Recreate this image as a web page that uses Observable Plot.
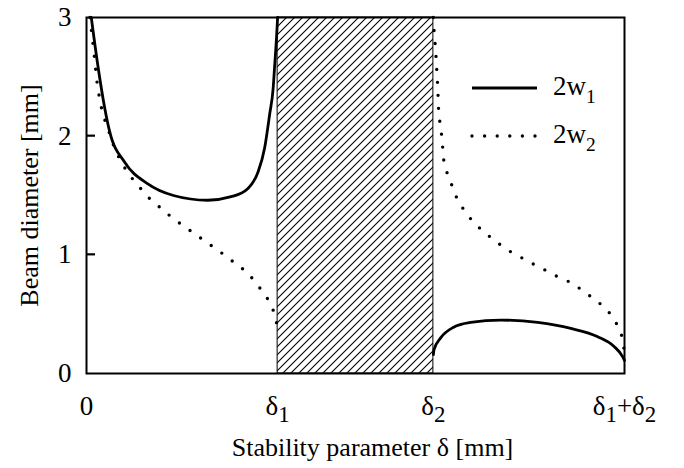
<!DOCTYPE html>
<html><head><meta charset="utf-8">
<script src="https://cdn.jsdelivr.net/npm/d3@7"></script>
<script src="https://cdn.jsdelivr.net/npm/@observablehq/plot@0.6"></script>
<style>body{margin:0;background:#fff;} svg{display:block}</style>
</head><body><div id="chart"></div>
<script>
// ---- data ----
const delta1 = 1.0;
const delta2 = 1.815;
const xTickValues = [0, delta1, delta2, delta1 + delta2];
const xTickLabels = ["0", "δ_1", "δ_2", "δ_1+δ_2"];
const yTickValues = [0, 1, 2, 3];
const yInnerTicks = [1, 2];
const xTitle = "Stability parameter δ [mm]";
const yTitle = "Beam diameter [mm]";
const seriesNames = ["2w_1", "2w_2"];
const unstableZone = [[delta1, delta2]];

// 2w1 (solid), first stability zone [0, δ1]
const w1Left = [[0.025,3.0],[0.059,2.60],[0.095,2.24],[0.121,2.04],[0.2,1.78],[0.319,1.60],[0.455,1.50],
  [0.634,1.46],[0.757,1.49],[0.845,1.56],[0.898,1.70],[0.932,1.90],[0.958,2.18],[0.977,2.41],
  [0.984,2.58],[0.995,2.85],[1.0,3.0]];
// 2w2 (dotted), first stability zone
const w2Left = [[0.018,3.0],[0.038,2.72],[0.058,2.41],[0.084,2.19],[0.126,2.00],[0.15,1.88],[0.215,1.69],
  [0.319,1.49],[0.450,1.31],[0.581,1.16],[0.712,1.01],[0.843,0.85],[0.937,0.66],[0.974,0.55],
  [0.99,0.45],[1.0,0.40]];
// 2w1 (solid), second stability zone [δ2, δ1+δ2]
const w1Right = [[1.815,0.16],[1.818,0.20],[1.853,0.30],[1.921,0.39],[2.010,0.43],[2.168,0.45],
  [2.361,0.43],[2.534,0.38],[2.675,0.31],[2.759,0.23],[2.806,0.14],[2.815,0.11]];
// 2w2 (dotted), second stability zone
const w2Right = [[1.815,3.0],[1.817,2.92],[1.827,2.72],[1.838,2.41],[1.843,2.19],[1.859,2.00],
  [1.869,1.80],[1.890,1.67],[1.916,1.57],[1.937,1.48],[1.974,1.38],[2.026,1.27],[2.089,1.18],
  [2.152,1.10],[2.215,1.03],[2.283,0.97],[2.340,0.92],[2.414,0.86],[2.471,0.81],[2.545,0.76],
  [2.602,0.69],[2.665,0.62],[2.728,0.53],[2.770,0.43],[2.796,0.35],[2.810,0.24],[2.815,0.16]];

// ---- layout ----
const W = 684, H = 468, mL = 86, mR = 60, mT = 17, mB = 95;
const FONT = "'Liberation Serif', 'Times New Roman', serif";
const solidStyle = {stroke: "black", strokeWidth: 2.8, strokeLinejoin: "round"};
const dotStyle = {stroke: "black", strokeWidth: 3.4, strokeDasharray: "0 13", strokeLinecap: "round"};

const svg = Plot.plot({
  width: W, height: H,
  marginLeft: mL, marginRight: mR, marginTop: mT, marginBottom: mB,
  style: {fontFamily: FONT, color: "black", background: "white", overflow: "visible"},
  x: {domain: [0, delta1 + delta2]},
  y: {domain: [0, 3]},
  marks: [
    Plot.rect(unstableZone, {x1: d => d[0], x2: d => d[1], y1: 0, y2: 3,
      fill: "url(#hatch)", stroke: "black", strokeWidth: 1}),
    Plot.line(w2Left, {x: d => d[0], y: d => d[1], ...dotStyle}),
    Plot.line(w2Right, {x: d => d[0], y: d => d[1], ...dotStyle}),
    Plot.line(w1Left, {x: d => d[0], y: d => d[1], ...solidStyle, curve: "monotone-x"}),
    Plot.line(w1Right, {x: d => d[0], y: d => d[1], ...solidStyle, curve: "monotone-x"}),
    Plot.frame({stroke: "black", strokeWidth: 2}),
    Plot.axisX(xTickValues, {tickSize: 0, tickPadding: 22, fontSize: 27, label: null,
      tickFormat: d => xTickLabels[xTickValues.indexOf(d)]}),
    Plot.axisY(yTickValues, {tickSize: 0, tickPadding: 15, fontSize: 27, label: null, tickFormat: d => String(d)}),
    Plot.text([yTitle], {text: d => d, frameAnchor: "left", dx: -57, rotate: -90, textAnchor: "middle", fontSize: 26}),
    Plot.text([xTitle], {text: d => d, frameAnchor: "bottom", dx: 17, dy: 74.5, textAnchor: "middle", lineAnchor: "middle", fontSize: 26})
  ]
});
document.getElementById("chart").appendChild(svg);

const s = d3.select(svg);
// hatch pattern
const defs = s.insert("defs", ":first-child");
const pat = defs.append("pattern").attr("id", "hatch").attr("patternUnits", "userSpaceOnUse")
  .attr("width", 8).attr("height", 8);
pat.append("rect").attr("width", 8).attr("height", 8).attr("fill", "white");
pat.append("path").attr("d", "M-2,2 L2,-2 M0,8 L8,0 M6,10 L10,6")
  .attr("stroke", "black").attr("stroke-width", 1.1);

// inward y ticks, placed with Plot's own y scale (domain/range)
const ys = svg.scale("y");
const yMap = d3.scaleLinear(ys.domain, ys.range);
const tg = s.append("g").attr("stroke", "black").attr("stroke-width", 2.2).attr("fill", "none");
yInnerTicks.forEach(v => {
  const py = yMap(v);
  tg.append("path").attr("d", `M${mL},${py}H${mL + 9}`);
});

// rich text with subscripts
function rich(textSel, str, fs, ratio, shift) {
  textSel.text(null);
  const parts = str.split(/_(\d)/);
  let down = false;
  parts.forEach((p, i) => {
    if (!p) return;
    if (i % 2 === 1) {
      textSel.append("tspan").attr("font-size", fs * ratio).attr("dy", shift).text(p);
      down = true;
    } else {
      const t = textSel.append("tspan").text(p);
      if (down) { t.attr("dy", -shift); down = false; }
    }
  });
}
s.selectAll('g[aria-label="x-axis tick label"] text').each(function() {
  const sel = d3.select(this);
  rich(sel, sel.text(), 27, 0.85, 7);
});

// legend
const lx1 = 472, lx2 = 537, tx = 553;
const legendY = [88, 136];
const leg = s.append("g").attr("font-family", FONT).attr("font-size", 27).attr("text-anchor", "start");
seriesNames.forEach((name, i) => {
  const ln = leg.append("line").attr("x1", lx1).attr("x2", lx2)
    .attr("y1", legendY[i]).attr("y2", legendY[i]).attr("stroke", "black");
  if (i === 0) ln.attr("stroke-width", 2.8);
  else ln.attr("stroke-width", 3.4).attr("stroke-dasharray", "0 12.6").attr("stroke-linecap", "round");
  const t = leg.append("text").attr("x", tx).attr("y", legendY[i] + 7);
  rich(t, name, 27, 0.72, 8);
});
</script>
</body></html>
